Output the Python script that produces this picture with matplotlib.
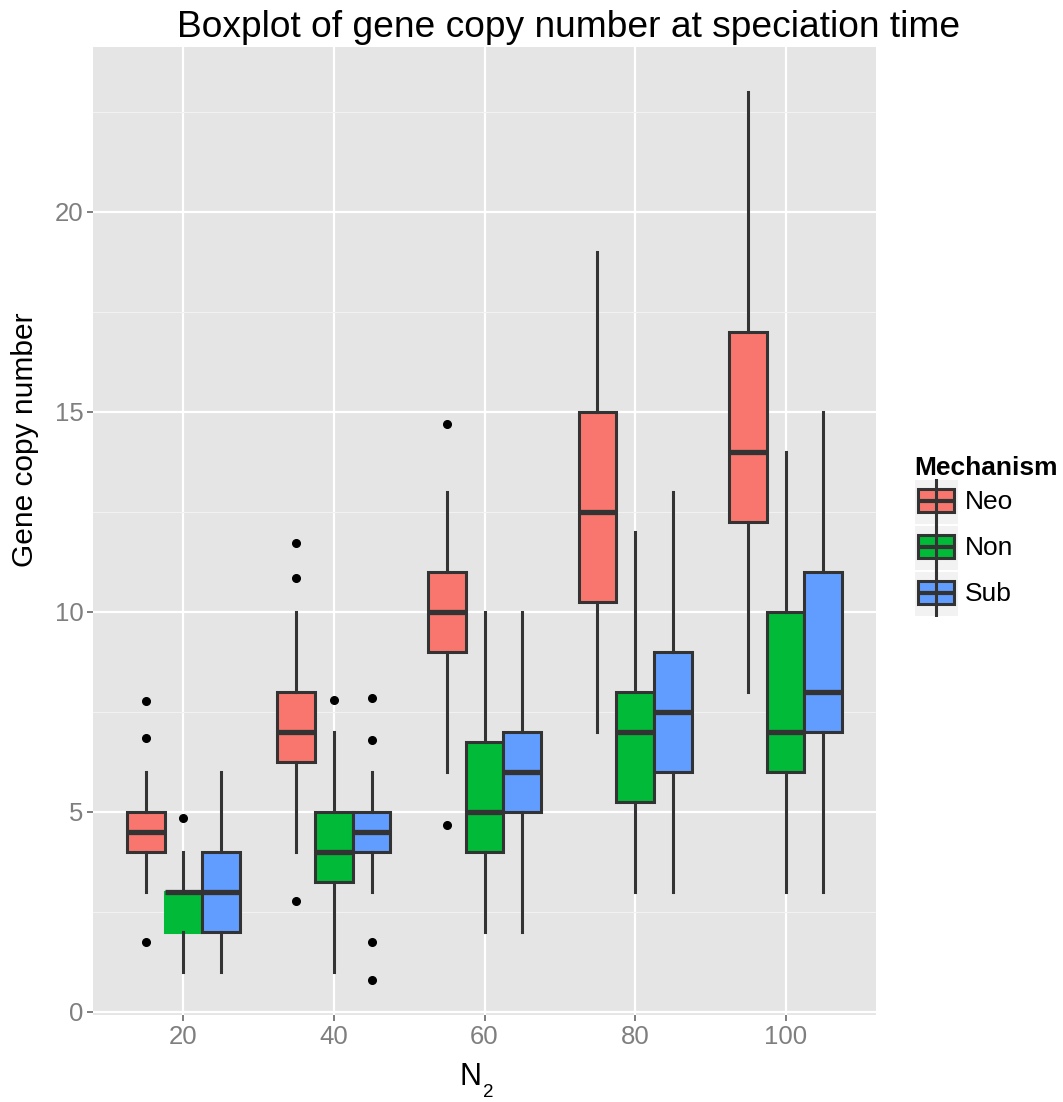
import matplotlib
matplotlib.use('Agg')
import matplotlib.pyplot as plt
from matplotlib.patches import Rectangle

plt.rcParams['font.family'] = ['Liberation Sans', 'DejaVu Sans']

# data
groups = ['20', '40', '60', '80', '100']
mechanisms = ['Neo', 'Non', 'Sub']
colors = ['#F8766D', '#00BA38', '#619CFF']

neo_q1 = [4, 6.25, 9, 10.25, 12.25]
neo_med = [4.5, 7, 10, 12.5, 14]
neo_q3 = [5, 8, 11, 15, 17]
neo_lo = [3, 4, 6, 7, 8]
neo_hi = [6, 10, 13, 19, 23]
neo_out = [[7.77, 6.83, 1.73], [11.71, 10.83, 2.77], [14.69, 4.67], [], []]

non_q1 = [2, 3.25, 4, 5.25, 6]
non_med = [3, 4, 5, 7, 7]
non_q3 = [3, 5, 6.75, 8, 10]
non_lo = [1, 1, 2, 3, 3]
non_hi = [4, 7, 10, 12, 14]
non_out = [[4.84], [7.78], [], [], []]

sub_q1 = [2, 4, 5, 6, 7]
sub_med = [3, 4.5, 6, 7.5, 8]
sub_q3 = [4, 5, 7, 9, 11]
sub_lo = [1, 3, 2, 3, 3]
sub_hi = [6, 6, 10, 13, 15]
sub_out = [[], [7.83, 6.78, 1.73, 0.78], [], [], []]

series = [
    (neo_q1, neo_med, neo_q3, neo_lo, neo_hi, neo_out),
    (non_q1, non_med, non_q3, non_lo, non_hi, non_out),
    (sub_q1, sub_med, sub_q3, sub_lo, sub_hi, sub_out),
]

W, H = 1063, 1102
fig = plt.figure(figsize=(W / 100, H / 100), dpi=100)
ax = fig.add_axes([93 / W, 1 - 1015 / H, (876 - 93) / W, (1015 - 46.7) / H])
ax.set_facecolor('#E5E5E5')
for s in ax.spines.values():
    s.set_visible(False)

edge = '#333333'
offsets = [-0.25, 0, 0.25]
for k, (q1, med, q3, lo, hi, out) in enumerate(series):
    stats = []
    for i in range(len(groups)):
        stats.append(dict(q1=q1[i], med=med[i], q3=q3[i], whislo=lo[i],
                          whishi=hi[i], fliers=out[i]))
    pos = [i + 1 + offsets[k] for i in range(len(groups))]
    bp = ax.bxp(stats, positions=pos, widths=0.25, patch_artist=True,
                showcaps=False, manage_ticks=False,
                boxprops=dict(facecolor=colors[k], edgecolor=edge, linewidth=2.2),
                whiskerprops=dict(color=edge, linewidth=2.2),
                medianprops=dict(color=edge, linewidth=3.8, solid_capstyle='butt'),
                flierprops=dict(marker='o', markerfacecolor='black',
                                markeredgecolor='black', markersize=5.5))
    if k == 1:
        # the first green box shows no outline in the reference
        bp['boxes'][0].set_edgecolor(colors[k])

ax.set_xlim(0.4, 5.6)
ax.set_ylim(-0.083, 24.125)
ax.set_xticks(range(1, 6))
ax.set_xticklabels(groups)
ax.set_yticks([0, 5, 10, 15, 20])
ax.set_yticks([2.5, 7.5, 12.5, 17.5, 22.5], minor=True)
ax.set_axisbelow(True)
ax.grid(True, which='major', color='white', linewidth=1.6)
ax.grid(True, which='minor', axis='y', color='#F2F2F2', linewidth=0.8)
ax.tick_params(which='major', length=4, width=1.4, color='#7F7F7F',
               labelcolor='#7F7F7F', labelsize=18.5, pad=3)
ax.tick_params(which='minor', length=0)

fig.text(568.5 / W, 1 - 37 / H, 'Boxplot of gene copy number at speciation time',
         ha='center', va='baseline', fontsize=26.7)
fig.text(25 / W, 1 - 440 / H, 'Gene copy number', rotation=90,
         ha='center', va='center', fontsize=21.5)
# x label N with subscript 2
fig.text(470 / W, 1 - 1085 / H, 'N', ha='center', va='baseline', fontsize=22)
fig.text(488 / W, 1 - 1097 / H, '2', ha='center', va='baseline', fontsize=13.5)

# legend
fig.text(914 / W, 1 - 475 / H, 'Mechanism', fontweight='bold', fontsize=19,
         va='baseline', ha='left')
lax = fig.add_axes([915 / W, 1 - 617 / H, 43 / W, 138 / H])
lax.set_xlim(0, 1)
lax.set_ylim(3, 0)
lax.axis('off')
for k, name in enumerate(mechanisms):
    lax.add_patch(Rectangle((0, k + 0.02), 1, 0.96, facecolor='#F2F2F2',
                            edgecolor='none'))
    lax.plot([0.49, 0.49], [k + 0.02, k + 0.98], color=edge, lw=2.2)
    lax.add_patch(Rectangle((0.07, k + 0.22), 0.84, 0.5, facecolor=colors[k],
                            edgecolor=edge, lw=2.2))
    lax.plot([0.07, 0.91], [k + 0.48, k + 0.48], color=edge, lw=3.0,
             solid_capstyle='butt')
    fig.text(965 / W, 1 - (502 + 46 * k) / H, name, fontsize=19,
             va='center', ha='left')

fig.savefig('out.png', dpi=100)
